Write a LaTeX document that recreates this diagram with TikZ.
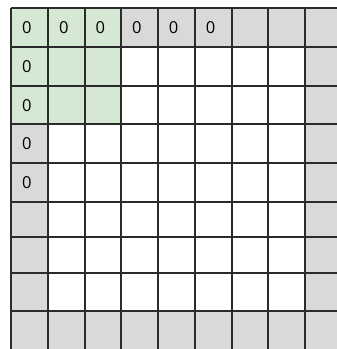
\documentclass[tikz,border=0pt]{standalone}
\usepackage{fontspec}
\setmainfont{Open Sans}
\definecolor{cellgray}{HTML}{D9D9D9}
\definecolor{cellgreen}{HTML}{D5E8D4}
\definecolor{gridline}{HTML}{2B2B2B}
\tikzset{
  zerolabel/.style={font=\fontsize{16.5}{20}\selectfont, inner sep=0pt, text=black},
  gridstroke/.style={draw=gridline, line width=1.1pt}
}
\begin{document}
\begin{tikzpicture}[x=1pt,y=-1pt]
\useasboundingbox (0,0) rectangle (337,349);
\fill[cellgray] (11,8) rectangle (337,349);
\fill[white] (48,47) rectangle (305,311);
\fill[cellgreen] (11,8) rectangle (121,124);
\foreach \x in {11,48,85,121,158,195,232,268,305}
  \draw[gridstroke] (\x,8) -- (\x,349);
\foreach \y in {8,47,86,124,163,202,237,273,311}
  \draw[gridstroke] (11,\y) -- (337,\y);
% top row labels
\node[zerolabel] (t0) at (26.8,28) {0};
\node[zerolabel] (t1) at (63.8,28) {0};
\node[zerolabel] (t2) at (100.3,28) {0};
\node[zerolabel] (t3) at (136.8,28) {0};
\node[zerolabel] (t4) at (173.6,28) {0};
\node[zerolabel] (t5) at (210.6,28) {0};
% left column labels
\node[zerolabel] (l1) at (26.8,67) {0};
\node[zerolabel] (l2) at (26.8,105.5) {0};
\node[zerolabel] (l3) at (26.8,144) {0};
\node[zerolabel] (l4) at (26.8,183) {0};
\end{tikzpicture}
\end{document}
